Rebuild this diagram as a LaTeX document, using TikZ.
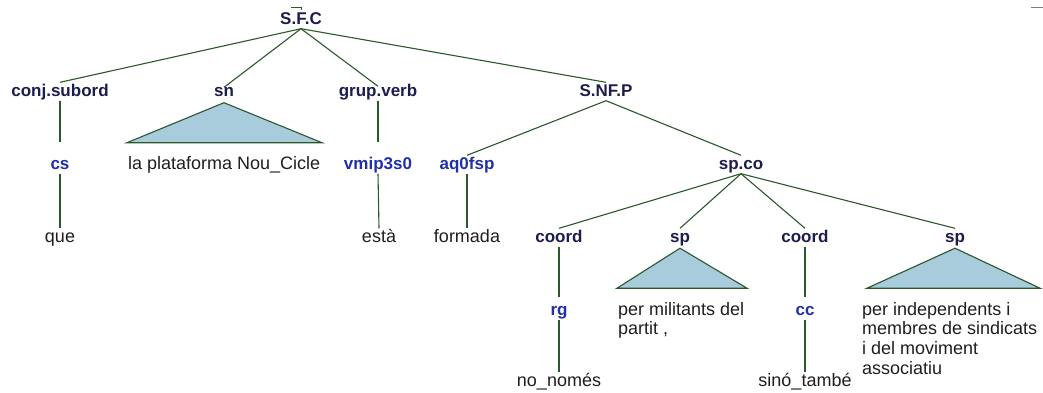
\documentclass[tikz,border=0pt]{standalone}
\usepackage{fontspec}
\setmainfont{Liberation Sans}
\definecolor{catcol}{RGB}{28,28,78}
\definecolor{poscol}{RGB}{32,48,168}
\definecolor{wordcol}{RGB}{30,30,30}
\definecolor{linecol}{RGB}{42,88,42}
\definecolor{trifill}{RGB}{168,204,220}
\tikzset{
  catlab/.style={font=\fontsize{17}{20}\selectfont\bfseries, text=catcol, inner sep=1pt,
    text height=12.5pt, text depth=3.5pt, anchor=base},
  taglab/.style={catlab, text=poscol},
  wordlab/.style={font=\fontsize{18}{19.7}\selectfont, text=wordcol, inner sep=1pt,
    text height=12.5pt, text depth=3.5pt, anchor=base},
  wordblock/.style={font=\fontsize{18}{19.7}\selectfont, text=wordcol, inner sep=0pt,
    align=left, anchor=north west},
  conn/.style={draw=linecol, line width=1.1pt},
  tri/.style={draw=linecol, fill=trifill, line width=1.1pt, line join=miter}
}
\begin{document}
\begin{tikzpicture}[x=1pt, y=-1pt]
\useasboundingbox (0,0) rectangle (1043,392);
% row 1
\node[catlab] (sfc) at (301,24) {S.F.C};
% row 2
\node[catlab] (conj) at (60,96) {conj.subord};
\node[catlab] (sn) at (224,96) {sn};
\node[catlab] (gv) at (378,96) {grup.verb};
\node[catlab] (snfp) at (606,96) {S.NF.P};
% row 3
\node[taglab] (cs) at (60,169) {cs};
\node[wordlab, anchor=base west] (plat) at (127,169) {la plataforma Nou\_Cicle};
\node[taglab] (vmip) at (378,169) {vmip3s0};
\node[taglab] (aq) at (467,169) {aq0fsp};
\node[catlab] (spco) at (741,169) {sp.co};
% row 4
\node[wordlab] (que) at (60,242) {que};
\node[wordlab] (esta) at (379,242) {està};
\node[wordlab] (formada) at (467,242) {formada};
\node[catlab] (coordA) at (559,242) {coord};
\node[catlab] (spA) at (680,242) {sp};
\node[catlab] (coordB) at (805,242) {coord};
\node[catlab] (spB) at (955,242) {sp};
% row 5
\node[taglab] (rg) at (559,315) {rg};
\node[wordblock] (mil) at (618,302) {per militants del\\partit ,};
\node[taglab] (cc) at (805,315) {cc};
\node[wordblock] (ind) at (862,302) {per independents i\\membres de sindicats\\i del moviment\\associatiu};
% row 6
\node[wordlab] (nonomes) at (559,386) {no\_només};
\node[wordlab] (sino) at (805,386) {sinó\_també};
% connectors
\draw[conn] (sfc.south) -- (conj.north);
\draw[conn] (sfc.south) -- ([yshift=-5pt]sn.north);
\draw[conn] (sfc.south) -- ([yshift=-4pt]gv.north);
\draw[conn] (sfc.south) -- (snfp.north);
\draw[conn, shorten >=13.5pt] (conj.south) -- (cs.north);
\draw[conn] (cs.south) -- (que.north);
\draw[conn, shorten >=13.5pt] (gv.south) -- (vmip.north);
\draw[conn] (vmip.south) -- (esta.north);
\draw[conn] (snfp.south) -- (aq.north);
\draw[conn] (snfp.south) -- (spco.north);
\draw[conn] (aq.south) -- (formada.north);
\draw[conn] (spco.south) -- (coordA.north);
\draw[conn] (spco.south) -- (spA.north);
\draw[conn] (spco.south) -- (coordB.north);
\draw[conn] (spco.south) -- (spB.north);
\draw[conn, shorten >=4pt] (coordA.south) -- (rg.north);
\draw[conn] (rg.south) -- (nonomes.north);
\draw[conn, shorten >=4pt] (coordB.south) -- (cc.north);
\draw[conn] (cc.south) -- (sino.north);
% triangles
\draw[tri] ([yshift=-2pt]sn.south) -- ++(-97,40) -- ++(195,0) -- cycle;
\draw[tri] ([yshift=-1.5pt]spA.south) -- ++(-63,40) -- ++(130,0) -- cycle;
\draw[tri] ([yshift=-1.5pt]spB.south) -- ++(-88,40) -- ++(173,0) -- cycle;
% small marks
\draw[linecol, line width=0.8pt] (291,7) -- (301,7) -- (301,10);
\draw[gray, line width=0.9pt] (1031,7) -- (1043,7);
\end{tikzpicture}
\end{document}
